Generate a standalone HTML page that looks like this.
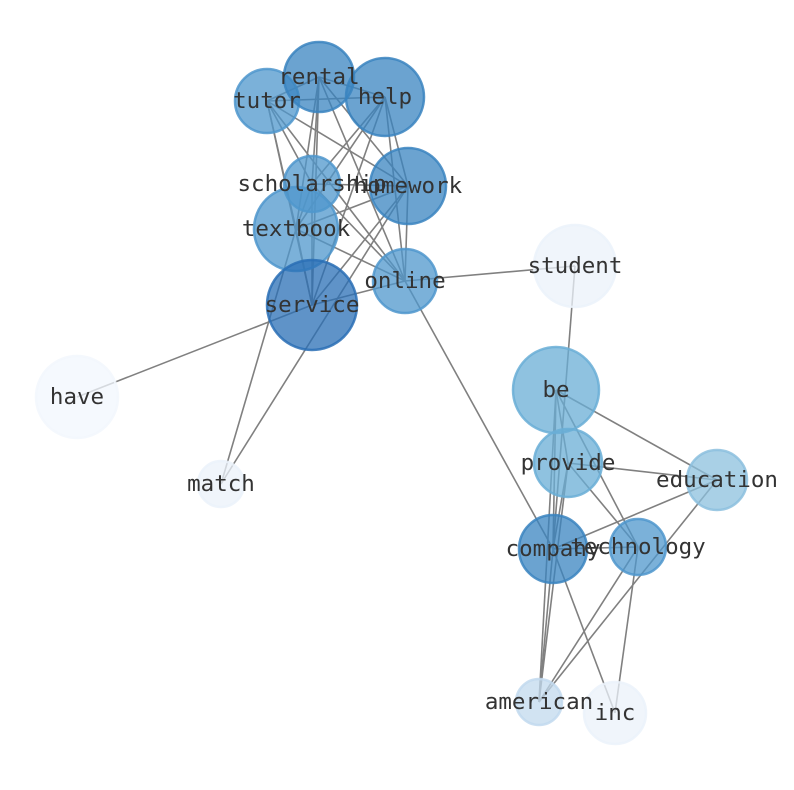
<!DOCTYPE html>
<html><head><meta charset="utf-8"><style>body{margin:0;background:#fff}svg{display:block}</style></head><body>
<svg width="794" height="790" xmlns="http://www.w3.org/2000/svg">
<g stroke="#808080" stroke-width="1.6">
<line x1="267" y1="101" x2="319" y2="77"/><line x1="267" y1="101" x2="385" y2="97"/><line x1="267" y1="101" x2="312" y2="184"/><line x1="267" y1="101" x2="408" y2="186"/><line x1="267" y1="101" x2="296" y2="229"/><line x1="267" y1="101" x2="405" y2="281"/><line x1="267" y1="101" x2="312" y2="305"/>
<line x1="319" y1="77" x2="385" y2="97"/><line x1="319" y1="77" x2="312" y2="184"/><line x1="319" y1="77" x2="408" y2="186"/><line x1="319" y1="77" x2="296" y2="229"/><line x1="319" y1="77" x2="405" y2="281"/><line x1="319" y1="77" x2="312" y2="305"/>
<line x1="385" y1="97" x2="312" y2="184"/><line x1="385" y1="97" x2="408" y2="186"/><line x1="385" y1="97" x2="296" y2="229"/><line x1="385" y1="97" x2="405" y2="281"/><line x1="385" y1="97" x2="312" y2="305"/>
<line x1="312" y1="184" x2="408" y2="186"/><line x1="312" y1="184" x2="296" y2="229"/><line x1="312" y1="184" x2="405" y2="281"/><line x1="312" y1="184" x2="312" y2="305"/>
<line x1="408" y1="186" x2="296" y2="229"/><line x1="408" y1="186" x2="405" y2="281"/><line x1="408" y1="186" x2="312" y2="305"/>
<line x1="296" y1="229" x2="405" y2="281"/><line x1="296" y1="229" x2="312" y2="305"/>
<line x1="405" y1="281" x2="312" y2="305"/>
<line x1="405" y1="281" x2="575" y2="266"/><line x1="312" y1="305" x2="77" y2="397"/>
<line x1="221" y1="484" x2="296" y2="229"/><line x1="221" y1="484" x2="408" y2="186"/>
<line x1="405" y1="281" x2="553" y2="549"/><line x1="575" y1="266" x2="553" y2="549"/>
<line x1="556" y1="390" x2="717" y2="480"/><line x1="556" y1="390" x2="568" y2="463"/><line x1="556" y1="390" x2="638" y2="547"/><line x1="556" y1="390" x2="553" y2="549"/><line x1="556" y1="390" x2="539" y2="702"/>
<line x1="568" y1="463" x2="717" y2="480"/><line x1="568" y1="463" x2="638" y2="547"/><line x1="568" y1="463" x2="553" y2="549"/><line x1="568" y1="463" x2="539" y2="702"/>
<line x1="553" y1="549" x2="717" y2="480"/><line x1="553" y1="549" x2="638" y2="547"/><line x1="553" y1="549" x2="539" y2="702"/><line x1="553" y1="549" x2="615" y2="713"/>
<line x1="638" y1="547" x2="539" y2="702"/><line x1="638" y1="547" x2="615" y2="713"/><line x1="717" y1="480" x2="539" y2="702"/>
</g>
<g stroke-width="2.5" fill-opacity="0.75" stroke-opacity="0.85">
<circle cx="267" cy="101" r="32" fill="#4f97cc" stroke="#4f97cc"/>
<circle cx="319" cy="77" r="35" fill="#3a84c0" stroke="#3a84c0"/>
<circle cx="385" cy="97" r="39" fill="#3a84c0" stroke="#3a84c0"/>
<circle cx="312" cy="184" r="28" fill="#4f97cc" stroke="#4f97cc"/>
<circle cx="408" cy="186" r="38" fill="#3a84c0" stroke="#3a84c0"/>
<circle cx="296" cy="229" r="42" fill="#4f97cc" stroke="#4f97cc"/>
<circle cx="405" cy="281" r="32" fill="#4f97cc" stroke="#4f97cc"/>
<circle cx="312" cy="305" r="45" fill="#2a6fb5" stroke="#2a6fb5"/>
<circle cx="575" cy="266" r="41" fill="#ebf2fa" stroke="#ebf2fa"/>
<circle cx="77" cy="397" r="41" fill="#f2f7fd" stroke="#f2f7fd"/>
<circle cx="221" cy="484" r="23" fill="#ebf2fa" stroke="#ebf2fa"/>
<circle cx="556" cy="390" r="43" fill="#6aaed6" stroke="#6aaed6"/>
<circle cx="568" cy="463" r="34" fill="#6aaed6" stroke="#6aaed6"/>
<circle cx="717" cy="480" r="30" fill="#8cc0de" stroke="#8cc0de"/>
<circle cx="553" cy="549" r="34" fill="#3a84c0" stroke="#3a84c0"/>
<circle cx="638" cy="547" r="28" fill="#4f97cc" stroke="#4f97cc"/>
<circle cx="539" cy="702" r="23" fill="#c2d9ee" stroke="#c2d9ee"/>
<circle cx="615" cy="713" r="31" fill="#ebf2fa" stroke="#ebf2fa"/>
</g>
<g font-family="DejaVu Sans Mono, Liberation Mono, monospace" font-size="22.5" fill="#333" text-anchor="middle" dominant-baseline="central">
<text x="267" y="101">tutor</text><text x="319" y="77">rental</text><text x="385" y="97">help</text><text x="312" y="184">scholarship</text><text x="408" y="186">homework</text><text x="296" y="229">textbook</text><text x="405" y="281">online</text><text x="312" y="305">service</text><text x="575" y="266">student</text><text x="77" y="397">have</text><text x="221" y="484">match</text><text x="556" y="390">be</text><text x="568" y="463">provide</text><text x="717" y="480">education</text><text x="553" y="549">company</text><text x="638" y="547">technology</text><text x="539" y="702">american</text><text x="615" y="713">inc</text>
</g>
</svg></body></html>
